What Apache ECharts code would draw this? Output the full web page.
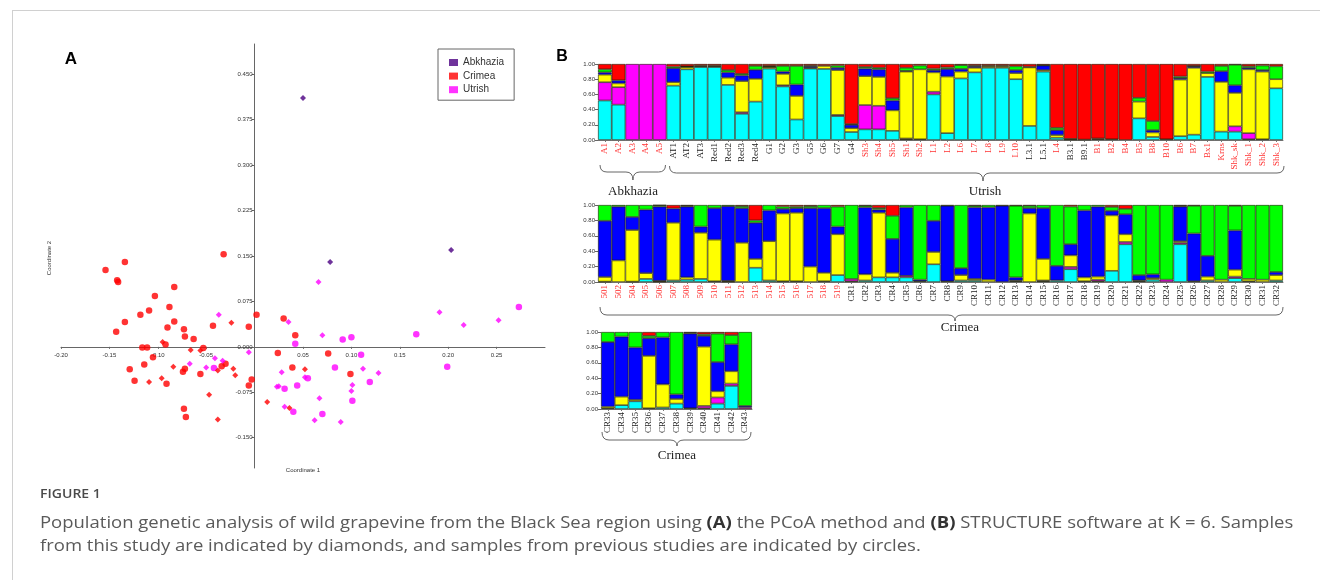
<!DOCTYPE html>
<html><head><meta charset="utf-8">
<script src="https://cdn.jsdelivr.net/npm/echarts@6/dist/echarts.min.js"></script>
<style>html,body{margin:0;padding:0;background:#fff}#c{width:1320px;height:580px}</style>
</head><body><div id="c"></div>
<script>
// ---------- Panel A: PCoA scatter data ----------
const abkhaziaDiamonds = [[0.050,0.411],[0.078,0.140],[0.203,0.160]];
const crimeaCircles = [[-0.154,0.127],[-0.134,0.140],[-0.142,0.110],[-0.141,0.107],[-0.083,0.099],[-0.103,0.084],[-0.109,0.060],[-0.118,0.053],[-0.088,0.066],[-0.134,0.041],[-0.143,0.025],[-0.083,0.042],[-0.090,0.032],[-0.073,0.029],[-0.072,0.017],[-0.063,0.013],[-0.043,0.035],[-0.032,0.153],[0.002,0.053],[-0.006,0.033],[-0.116,-0.001],[-0.111,-0.001],[-0.092,0.004],[-0.105,-0.017],[-0.114,-0.029],[-0.129,-0.037],[-0.124,-0.056],[-0.091,-0.061],[-0.074,-0.041],[-0.072,-0.036],[-0.056,-0.045],[-0.053,-0.002],[-0.034,-0.032],[-0.030,-0.028],[-0.003,-0.054],[-0.006,-0.064],[-0.073,-0.102],[-0.071,-0.116],[0.024,-0.010],[0.030,0.047],[0.042,0.019],[0.039,-0.034],[0.076,-0.011],[0.099,-0.045]];
const crimeaDiamonds = [[-0.024,0.040],[-0.066,-0.005],[-0.084,-0.033],[-0.096,-0.052],[-0.109,-0.058],[-0.095,0.008],[-0.056,-0.006],[-0.038,-0.039],[-0.022,-0.036],[-0.020,-0.047],[-0.047,-0.079],[-0.038,-0.120],[0.013,-0.091],[0.052,-0.037],[0.036,-0.101]];
const utrishCircles = [[-0.042,-0.035],[0.031,-0.069],[0.044,-0.064],[0.042,0.005],[0.040,-0.107],[0.055,-0.052],[0.083,-0.034],[0.091,0.012],[0.100,0.016],[0.110,-0.013],[0.070,-0.111],[0.119,-0.058],[0.101,-0.089],[0.167,0.021],[0.199,-0.033],[0.273,0.066]];
const utrishDiamonds = [[-0.037,0.053],[-0.041,-0.019],[-0.033,-0.023],[-0.050,-0.034],[-0.067,-0.028],[-0.006,-0.009],[0.035,0.041],[0.066,0.107],[0.070,0.019],[0.028,-0.042],[0.025,-0.065],[0.023,-0.066],[0.031,-0.099],[0.052,-0.050],[0.067,-0.085],[0.062,-0.121],[0.089,-0.124],[0.101,-0.063],[0.100,-0.073],[0.112,-0.036],[0.128,-0.043],[0.191,0.057],[0.216,0.036],[0.252,0.044]];
const pcoaXTicks = [-0.2,-0.15,-0.1,-0.05,0.05,0.1,0.15,0.2,0.25];
const pcoaYTicks = [-0.15,-0.075,0,0.075,0.15,0.225,0.3,0.375,0.45];

// ---------- Panel B: STRUCTURE K=6 ----------
const r1Labels = ['A1','A2','A3','A4','A5','AT1','AT2','AT3','Red1','Red2','Red3','Red4','G1','G2','G3','G5','G6','G7','G4','Sh3','Sh4','Sh5','Sh1','Sh2','L1','L2','L6','L7','L8','L9','L10','L3.1','L5.1','L4','B3.1','B9.1','B1','B2','B4','B5','B8','B10','B6','B7','Bx1','Krns','Shk_sk','Shk_1','Shk_2','Shk_3'];
const r1Cyan    = [.52,.465,0,0,0, .715,.93,.96,.96,.725, .345,.505,.94,.705,.27, .94,.935,.315,.105,.14, .14,.12,.01,.01,.60, .09,.81,.89,.95,.95, .80,.185,.90,.03,.005, .005,.01,.01,0,.285, .04,.01,.05,.07,.83, .11,.11,.01,.01,.68];
const r1Magenta = [.24,.23,1,1,1, 0,0,0,0,0, .02,0,0,.015,0, 0,0,.015,0,.32, .31,0,.01,0,.035, 0,0,0,0,0, 0,0,0,0,0, 0,0,0,0,0, 0,0,0,0,0, 0,.07,.08,0,0];
const r1Yellow  = [.10,.05,0,0,0, .045,.03,0,0,.095, .41,.30,.02,.15,.31, .01,.04,.59,.05,.38, .38,.27,.88,.92,.255, .745,.09,.06,.02,.02, .08,.77,.02,.035,0, 0,0,0,0,.22, .06,0,.745,.88,.05, .655,.44,.84,.89,.12];
const r1Blue    = [.03,.04,0,0,0, .185,.005,.01,.01,.07, .075,.12,.005,.03,.15, .02,0,.03,.045,.10, .10,.13,.01,0,.03, .10,.035,.02,0,0, .04,.01,.06,.065,0, 0,.01,0,0,0, .03,0,.02,.02,0, .14,.10,.02,.02,0];
const r1Green   = [.04,0,0,0,0, .02,.005,.01,.01,.03, .02,.05,.01,.075,.245, .01,0,.03,.01,.02, .02,.03,.04,.05,.02, .02,.05,.01,.01,.01, .05,0,.005,.03,.01, 0,0,0,0,.05, .12,0,.02,.005,.02, .07,.27,.02,.06,.17];
const r1Red     = [.07,.215,0,0,0, .035,.03,.02,.02,.08, .13,.025,.025,.025,.025, .02,.025,.02,.79,.04, .05,.45,.05,.02,.06, .045,.015,.02,.02,.02, .03,.035,.015,.84,.985, .995,.98,.99,1,.445, .75,.99,.165,.025,.10, .025,.01,.03,.02,.03];

const r2Labels = ['501','502','504','505','506','507','508','509','510','511','512','513','514','515','516','517','518','519','CR1','CR2','CR3','CR4','CR5','CR6','CR7','CR8','CR9','CR10','CR11','CR12','CR13','CR14','CR15','CR16','CR17','CR18','CR19','CR20','CR21','CR22','CR23','CR24','CR25','CR26','CR27','CR28','CR29','CR30','CR31','CR32'];
const r2Cyan    = [.005,0,.005,.04,.005, .02,.03,.04,.01,.005, 0,.185,.02,.01,.01, 0,.01,.09,.01,.02, .06,.06,.06,.01,.23, .01,.02,.02,0,0, .01,0,.01,.02,.166, .01,.01,.145,.49,.01, .03,0,.49,.01,.02, 0,.05,.01,0,.02];
const r2Magenta = [0,0,0,0,0, 0,0,0,0,0, 0,0,0,0,0, 0,0,0,.03,0, 0,0,.02,0,0, 0,0,0,0,0, 0,0,.01,0,.03, 0,.02,0,.03,0, 0,.03,.02,0,0, 0,.02,0,0,0];
const r2Yellow  = [.06,.28,.67,.075,.01, .75,.03,.60,.54,.01, .51,.115,.51,.88,.89, .20,.11,.53,0,.08, .84,.06,0,0,.16, 0,.07,.02,.03,0, .01,.89,.28,0,.15, .05,.04,.72,.10,.01, .02,0,.02,0,.05, .03,.09,.03,.03,.07];
const r2Blue    = [.73,.70,.17,.825,.965, .185,.92,.08,.41,.97, .45,.47,.40,.06,.06, .76,.84,.10,0,.87, .04,.44,.89,.02,.405, .98,.09,.93,.94,.99, .04,.07,.66,.19,.145, .87,.91,.06,.26,.07, .05,0,.45,.62,.27, 0,.51,0,0,.04];
const r2Green   = [.205,.02,.155,.06,.015, 0,.01,.28,.04,.015, .025,.03,.07,.03,.02, .025,.04,.26,.96,.02, .02,.30,.03,.97,.205, .01,.82,.02,.03,0, .93,.03,.04,.79,.49, .07,.02,.05,.07,.91, .90,.97,.01,.36,.66, .97,.32,.96,.97,.87];
const r2Red     = [0,0,0,0,.005, .045,.01,0,0,0, .015,.20,0,.02,.02, .015,0,.02,0,.01, .04,.14,0,0,0, 0,0,.01,0,.01, .01,.01,0,0,.02, 0,0,.025,.05,0, 0,0,.01,.01,0, 0,.01,0,0,0];

const r3Labels = ['CR33','CR34','CR35','CR36','CR37','CR38','CR39','CR40','CR41','CR42','CR43'];
const r3Cyan    = [.01,.05,.10,.01,.02,.07,.01,.01,.07,.30,0];
const r3Magenta = [0,0,0,0,0,0,0,.03,.08,.03,.02];
const r3Yellow  = [.02,.11,.02,.68,.30,.06,0,.77,.08,.16,0];
const r3Blue    = [.84,.78,.68,.23,.61,.06,.97,.14,.38,.35,.02];
const r3Green   = [.13,.06,.20,.03,.07,.81,.01,.02,.37,.12,.96];
const r3Red     = [0,0,0,.05,0,0,.01,.03,.02,.04,0];

// Samples from previous studies (black labels); others in red
const previousStudySamples = ['AT1','AT2','AT3','Red1','Red2','Red3','Red4','G1','G2','G3','G5','G6','G7','G4','L3.1','L5.1','B3.1','B9.1','CR1','CR2','CR3','CR4','CR5','CR6','CR7','CR8','CR9','CR10','CR11','CR12','CR13','CR14','CR15','CR16','CR17','CR18','CR19','CR20','CR21','CR22','CR23','CR24','CR25','CR26','CR27','CR28','CR29','CR30','CR31','CR32','CR33','CR34','CR35','CR36','CR37','CR38','CR39','CR40','CR41','CR42','CR43'];

// ---------- layout ----------
const clusterColors = ['#00ffff','#ff00ff','#ffff00','#0000ff','#00ff00','#ff0000'];
const rows = [
  {labels:r1Labels, data:[r1Cyan,r1Magenta,r1Yellow,r1Blue,r1Green,r1Red], grid:{left:598, top:64, width:685, height:76}},
  {labels:r2Labels, data:[r2Cyan,r2Magenta,r2Yellow,r2Blue,r2Green,r2Red], grid:{left:598, top:205, width:685, height:77}},
  {labels:r3Labels, data:[r3Cyan,r3Magenta,r3Yellow,r3Blue,r3Green,r3Red], grid:{left:601, top:332, width:151, height:77}}
];

const pGrid = {left:61, top:44, width:484, height:424};
const pX = {min:-0.2, max:0.3}, pY = {min:-0.2, max:0.5};
const grids = [pGrid];
const xAxes = [{
  type:'value', gridIndex:0, min:pX.min, max:pX.max, position:'bottom',
  offset: -pGrid.height * (0 - pY.min) / (pY.max - pY.min),
  axisLine:{onZero:false, lineStyle:{color:'#666', width:1}},
  axisTick:{show:true, length:2, customValues:pcoaXTicks, lineStyle:{color:'#666'}},
  axisLabel:{customValues:pcoaXTicks, formatter:v=>v.toFixed(2), fontSize:6, color:'#333', margin:5, fontFamily:'Liberation Sans'},
  splitLine:{show:false}
}];
const yAxes = [{
  type:'value', gridIndex:0, min:pY.min, max:pY.max, position:'left',
  offset: -pGrid.width * (0 - pX.min) / (pX.max - pX.min),
  axisLine:{onZero:false, lineStyle:{color:'#666', width:1}},
  axisTick:{show:true, length:3, customValues:pcoaYTicks, lineStyle:{color:'#666'}},
  axisLabel:{customValues:pcoaYTicks, formatter:v=>v.toFixed(3), fontSize:6, color:'#333', margin:2, fontFamily:'Liberation Sans'},
  splitLine:{show:false}
}];

const series = [
  {type:'scatter', name:'Crimea', symbol:'circle', symbolSize:6.5, data:crimeaCircles, itemStyle:{color:'#ff0000'}},
  {type:'scatter', name:'Utrish', symbol:'circle', symbolSize:6.5, data:utrishCircles, itemStyle:{color:'#ff00ff'}},
  {type:'scatter', name:'Crimea', symbol:'diamond', symbolSize:6, data:crimeaDiamonds, itemStyle:{color:'#ff0000'}},
  {type:'scatter', name:'Utrish', symbol:'diamond', symbolSize:6, data:utrishDiamonds, itemStyle:{color:'#ff00ff'}},
  {type:'scatter', name:'Abkhazia', symbol:'diamond', symbolSize:6, data:abkhaziaDiamonds, itemStyle:{color:'#4b0082'}}
];

rows.forEach((row, r) => {
  const gi = r + 1;
  grids.push(row.grid);
  xAxes.push({
    type:'category', gridIndex:gi, data:row.labels,
    axisLine:{lineStyle:{color:'#777', width:1}},
    axisTick:{show:true, alignWithLabel:true, length:2, lineStyle:{color:'#777'}},
    axisLabel:{interval:0, rotate:90, fontSize:9, fontFamily:'Liberation Serif', margin:3,
      color:(v)=> previousStudySamples.indexOf(v) >= 0 ? '#222' : '#ff3333'},
    splitLine:{show:false}
  });
  yAxes.push({
    type:'value', gridIndex:gi, min:0, max:1, interval:0.2,
    axisLine:{show:false},
    axisTick:{show:true, length:3, lineStyle:{color:'#666'}},
    axisLabel:{formatter:v=>v.toFixed(2), fontSize:6, color:'#333', margin:3, fontFamily:'Liberation Sans'},
    splitLine:{show:false}
  });
  row.data.forEach((arr, k) => {
    series.push({
      type:'bar', name:'K'+(k+1)+'_row'+gi, xAxisIndex:gi, yAxisIndex:gi, stack:'row'+gi,
      barCategoryGap:'0%', barGap:'0%', silent:true,
      itemStyle:{color:clusterColors[k], borderColor:'rgba(25,25,0,0.85)', borderWidth:0.7},
      data:arr.map(v => v > 0 ? v : null)
    });
  });
});

// ---------- decorations ----------
const braceStyle = {fill:null, stroke:'#555', lineWidth:0.9};
function brace(x1, x2, xm, y0, y1, y2){
  const r = 7;
  const parts = [
    {type:'bezierCurve', shape:{x1:x1, y1:y0, cpx1:x1, cpy1:y1, x2:x1+r, y2:y1}},
    {type:'line', shape:{x1:x1+r, y1:y1, x2:xm-r, y2:y1}},
    {type:'bezierCurve', shape:{x1:xm-r, y1:y1, cpx1:xm, cpy1:y1, x2:xm, y2:y2}},
    {type:'bezierCurve', shape:{x1:xm, y1:y2, cpx1:xm, cpy1:y1, x2:xm+r, y2:y1}},
    {type:'line', shape:{x1:xm+r, y1:y1, x2:x2-r, y2:y1}},
    {type:'bezierCurve', shape:{x1:x2-r, y1:y1, cpx1:x2, cpy1:y1, x2:x2, y2:y0}}
  ];
  return {type:'group', silent:true, children:parts.map(p => Object.assign(p, {style:Object.assign({}, braceStyle), silent:true}))};
}
function label(text,x,y,opt){
  return {type:'text', x:x, y:y, silent:true, style:Object.assign({text:text, fill:'#222', font:'13px "Liberation Serif"', align:'center', verticalAlign:'middle'}, opt||{})};
}
const b1 = rows[0].grid, bw1 = b1.width / r1Labels.length;
const b2 = rows[1].grid, b3 = rows[2].grid;
const graphic = [
  {type:'line', shape:{x1:12, y1:10.5, x2:1320, y2:10.5}, style:{stroke:'#d0d0d0', lineWidth:1}, silent:true},
  {type:'line', shape:{x1:12.5, y1:10, x2:12.5, y2:580}, style:{stroke:'#d0d0d0', lineWidth:1}, silent:true},
  label('A', 71, 59, {font:'bold 17px "Liberation Sans"', fill:'#000'}),
  label('B', 562, 57, {font:'bold 16px "Liberation Sans"', fill:'#000'}),
  label('Coordinate 1', 303, 470, {font:'6px "Liberation Sans"', fill:'#333'}),
  {type:'text', x:49, y:258, rotation:Math.PI/2, silent:true, style:{text:'Coordinate 2', font:'6px "Liberation Sans"', fill:'#333', align:'center', verticalAlign:'middle'}},
  brace(b1.left+2, b1.left+5*bw1-1, b1.left+2.55*bw1, 165, 172, 180),
  brace(b1.left+5*bw1+3, b1.left+b1.width+1, 983, 166, 173, 181),
  label('Abkhazia', 633, 192),
  label('Utrish', 985, 192),
  brace(b2.left+2, b2.left+b2.width, 955, 307, 315, 321),
  label('Crimea', 960, 328),
  brace(b3.left+1, b3.left+b3.width-1, 677, 432, 440, 446),
  label('Crimea', 677, 456),
  {type:'text', x:40, y:494, scaleX:1.08, silent:true, style:{text:'FIGURE 1', font:'600 13px "Open Sans"', fill:'#4a4a4a', verticalAlign:'middle'}},
  {type:'text', x:40, y:523, scaleX:1.12, silent:true, style:{
    text:'Population genetic analysis of wild grapevine from the Black Sea region using {b|(A)} the PCoA method and {b|(B)} STRUCTURE software at K = 6. Samples',
    font:'16.5px "Open Sans"', fill:'#5a5a5a', verticalAlign:'middle',
    rich:{b:{font:'bold 16.5px "Open Sans"', fill:'#333'}}}},
  {type:'text', x:40, y:546, scaleX:1.12, silent:true, style:{
    text:'from this study are indicated by diamonds, and samples from previous studies are indicated by circles.',
    font:'16.5px "Open Sans"', fill:'#5a5a5a', verticalAlign:'middle'}}
];

const chart = echarts.init(document.getElementById('c'));
chart.setOption({
  backgroundColor:'#fff',
  animation:false,
  textStyle:{fontFamily:'Liberation Sans'},
  grid:grids, xAxis:xAxes, yAxis:yAxes, series:series,
  legend:{
    data:[{name:'Abkhazia',icon:'rect'},{name:'Crimea',icon:'rect'},{name:'Utrish',icon:'rect'}],
    orient:'vertical', left:438, top:49, itemWidth:9, itemHeight:7, itemGap:2.6,
    padding:[8,10,5,11], borderColor:'#666', borderWidth:1,
    textStyle:{fontSize:10, lineHeight:11, color:'#333', fontFamily:'Liberation Sans'},
    selectedMode:false
  },
  graphic:graphic
});
</script></body></html>
